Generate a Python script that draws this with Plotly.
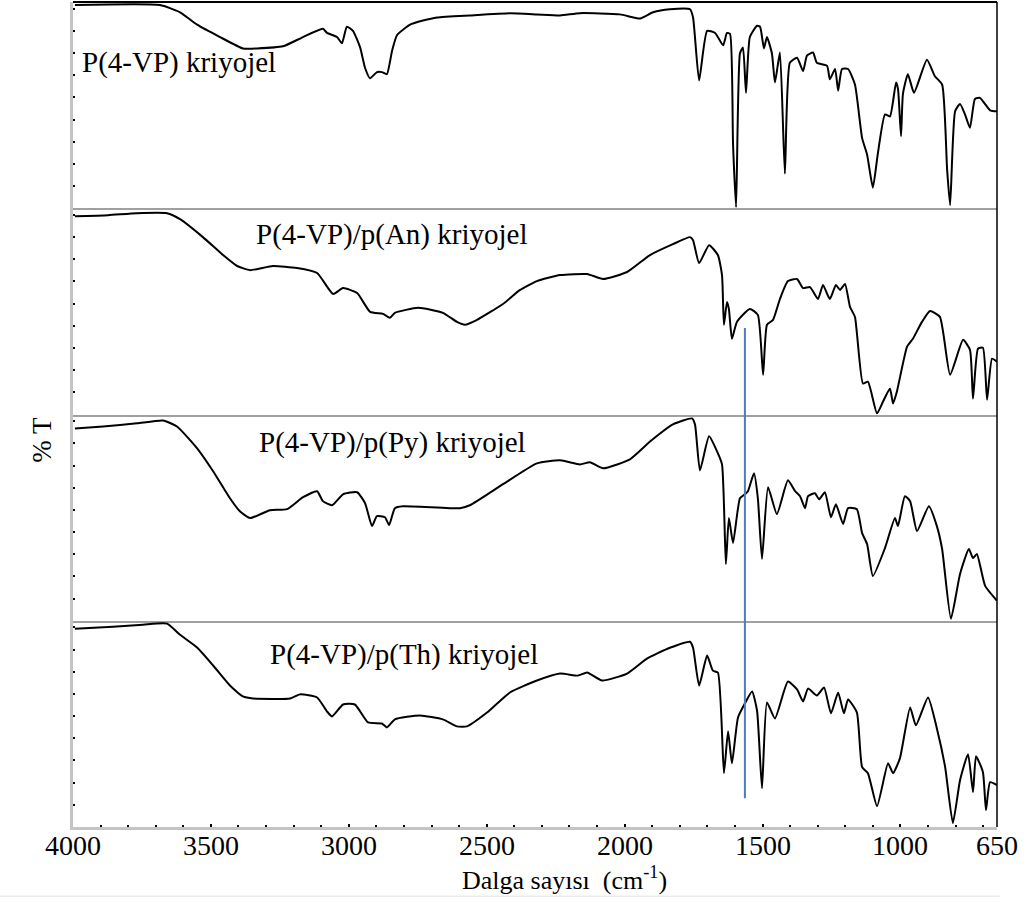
import plotly.graph_objects as go
from plotly.subplots import make_subplots

# ---------------- data (wavenumber cm-1, %T within each panel) ----------------
wn_p4vp = [3993, 3685, 3612, 3550, 3467, 3384, 3333, 3239, 3166, 3094, 3079, 3043, 3025, 3007,
           2985, 2959, 2941, 2923, 2898, 2880, 2862, 2843, 2825, 2778, 2731, 2680, 2561, 2416,
           2318, 2234, 2162, 2017, 1944, 1897, 1836, 1763, 1752, 1730, 1701, 1672, 1643, 1629,
           1618, 1607, 1596, 1582, 1571, 1560, 1546, 1520, 1509, 1495, 1484, 1466, 1455, 1437,
           1419, 1401, 1375, 1353, 1339, 1317, 1303, 1266, 1256, 1237, 1226, 1212, 1190, 1165,
           1139, 1121, 1100, 1082, 1056, 1038, 1016, 1009, 998, 991, 973, 951, 904, 875, 849,
           831, 820, 802, 784, 766, 748, 730, 712, 675, 650]
t_p4vp = [98.5, 98.5, 95, 89, 83, 77.5, 77.5, 78.5, 83, 87, 85, 83, 80, 88,
          86, 78, 68, 63, 66, 66, 65, 76.5, 84, 89, 91, 92.5, 93.5, 94.5,
          94, 93.5, 94.6, 94, 92, 95, 96.5, 96.5, 92.5, 62, 86, 85, 79, 85,
          84.5, 31, 0.5, 75, 78, 56, 83, 88.5, 88, 77.5, 83, 75, 61, 75.5,
          16.7, 70.5, 73, 66.5, 74, 75.5, 70.5, 69, 62.5, 67.5, 57, 67.5, 67.5, 60,
          34, 26, 10, 26.5, 45.5, 44.5, 61, 58, 35, 55.5, 65, 56, 72, 64, 60,
          19, 1.5, 47, 50.5, 45.5, 39, 53, 53.5, 47.5, 47]

wn_an = [3993, 3873, 3768, 3659, 3612, 3529, 3456, 3405, 3358, 3275, 3188, 3115, 3057, 3021,
         2970, 2923, 2876, 2851, 2833, 2749, 2659, 2608, 2579, 2535, 2441, 2379, 2318, 2234,
         2136, 2078, 1991, 1908, 1825, 1763, 1752, 1730, 1694, 1662, 1647, 1640, 1629, 1622,
         1611, 1593, 1546, 1517, 1498, 1484, 1462, 1437, 1408, 1375, 1353, 1328, 1299, 1281,
         1256, 1234, 1219, 1201, 1183, 1165, 1136, 1118, 1085, 1063, 1038, 1027, 1013, 976,
         955, 922, 893, 857, 820, 773, 748, 737, 719, 701, 686, 668, 650]
t_an = [96.1, 96.6, 97.6, 97.6, 94.7, 86.0, 77.3, 72.0, 70.0, 72.0, 71.0, 68.6, 58.4, 61.3,
        58.9, 49.8, 48.8, 46.9, 49.3, 51.7, 49.3, 44.9, 43.5, 45.9, 53.6, 60.4, 64.7, 67.6,
        68.1, 65.7, 69.1, 77.3, 82.6, 86.0, 84.5, 73.4, 82.1, 77.3, 67.6, 43.5, 54.6, 51.2,
        36.7, 44.9, 51.2, 48.3, 19.3, 43.5, 45.9, 56.0, 64.7, 65.7, 61.3, 61.8, 56.0, 62.8,
        56.0, 62.8, 60.4, 63.3, 52.2, 47.3, 15.0, 15.9, 0.5, 6.3, 12.6, 5.3, 11.1, 32.9,
        36.7, 44.9, 50.2, 47.3, 19.3, 36.2, 31.4, 7.7, 31.9, 32.4, 7.2, 27.1, 25.6]

wn_py = [3993, 3891, 3768, 3674, 3623, 3550, 3492, 3431, 3395, 3358, 3286, 3224, 3166, 3115,
         3094, 3061, 3021, 2970, 2941, 2916, 2898, 2869, 2854, 2833, 2804, 2633, 2597, 2561,
         2441, 2318, 2234, 2162, 2126, 2078, 1981, 1908, 1825, 1756, 1745, 1727, 1694, 1665,
         1647, 1633, 1622, 1607, 1582, 1564, 1553, 1531, 1517, 1502, 1480, 1448, 1408, 1382,
         1364, 1346, 1335, 1310, 1295, 1274, 1252, 1234, 1208, 1190, 1158, 1139, 1121, 1100,
         1056, 1020, 1009, 984, 965, 940, 897, 868, 849, 817, 784, 752, 737, 723, 693, 650]
t_py = [93.2, 94.2, 95.7, 97.1, 94.2, 83.6, 72.5, 59.4, 53.1, 49.8, 53.6, 54.1, 59.9, 62.8,
        58.0, 56.0, 61.3, 62.3, 57.0, 45.9, 50.7, 50.2, 46.4, 54.6, 55.5, 54.6, 54.6, 56.0,
        66.2, 76.3, 77.8, 75.8, 76.8, 73.9, 78.3, 86.9, 95.2, 98.1, 95.2, 72.9, 89.4, 82.1,
        75.8, 27.5, 49.8, 37.7, 59.4, 61.3, 62.8, 71.5, 59.4, 30.0, 64.7, 51.7, 68.1, 62.8,
        60.4, 54.6, 60.4, 61.8, 58.9, 62.3, 50.2, 56.5, 46.9, 54.6, 54.1, 42.5, 37.2, 21.7,
        35.3, 49.8, 45.9, 60.4, 58.0, 43.5, 55.5, 45.9, 34.8, 1.0, 22.7, 34.8, 30.4, 32.4, 16.9, 9.7]

wn_th = [3993, 3855, 3746, 3659, 3612, 3550, 3492, 3431, 3384, 3347, 3213, 3177, 3115, 3079,
         3061, 3021, 2978, 2930, 2880, 2862, 2833, 2742, 2659, 2608, 2572, 2499, 2416, 2318,
         2234, 2169, 2136, 2082, 1991, 1919, 1836, 1763, 1752, 1730, 1701, 1680, 1662, 1640,
         1625, 1611, 1589, 1564, 1538, 1520, 1502, 1484, 1455, 1408, 1375, 1353, 1335, 1303,
         1277, 1252, 1226, 1205, 1190, 1158, 1139, 1118, 1085, 1045, 1027, 1002, 965, 944,
         900, 868, 838, 810, 784, 755, 737, 726, 701, 690, 675, 650]
t_th = [96.1, 97.1, 98.1, 98.6, 93.2, 87.0, 78.3, 68.6, 63.3, 62.3, 62.3, 64.3, 62.8, 56.0,
        53.6, 59.4, 59.4, 50.7, 50.2, 48.3, 52.2, 54.1, 52.2, 48.8, 48.8, 55.5, 65.2, 71.0,
        74.4, 73.4, 74.9, 71.0, 74.4, 81.6, 86.9, 89.8, 86.9, 68.6, 83.1, 75.8, 74.9, 26.1,
        46.4, 30.9, 53.1, 59.9, 65.7, 56.5, 18.8, 60.4, 52.6, 70.5, 66.7, 60.9, 67.1, 63.8,
        67.6, 55.1, 65.2, 55.1, 61.8, 55.5, 29.0, 26.1, 10.1, 30.9, 26.1, 33.3, 58.0, 49.3,
        62.8, 47.8, 29.0, 1.9, 22.7, 35.3, 16.9, 34.3, 26.6, 8.2, 21.7, 20.3]

labels = ["P(4-VP) kriyojel", "P(4-VP)/p(An) kriyojel",
          "P(4-VP)/p(Py) kriyojel", "P(4-VP)/p(Th) kriyojel"]
label_wn = [3975, 2847, 2843, 2800]
label_t = [70.6, 87.4, 86.5, 83.6]
label_anchor = ["left", "center", "center", "center"]

x_tickvals = [4000, 3500, 3000, 2500, 2000, 1500, 1000, 650]
x_ticktext = ["4000", "3500", "3000", "2500", "2000", "1500", "1000", "650"]
x_title = "Dalga sayısı  (cm<sup>-1</sup>)"
y_title = "% T"

marker_wn = 1564          # vertical reference line
marker_top_t = 42         # %T in panel 2 where it starts
marker_bottom_t = 14      # %T in panel 4 where it ends

# ---------------- figure ----------------
FONT = "Liberation Serif, Times New Roman, Times, serif"
series = [(wn_p4vp, t_p4vp), (wn_an, t_an), (wn_py, t_py), (wn_th, t_th)]

fig = make_subplots(rows=4, cols=1, shared_xaxes=True, vertical_spacing=0)

for i, (wx, ty) in enumerate(series):
    fig.add_trace(go.Scatter(x=wx, y=ty, mode="lines",
                             line=dict(color="black", width=2, shape="spline", smoothing=0.5),
                             showlegend=False, hoverinfo="skip"),
                  row=i + 1, col=1)
    fig.add_annotation(x=label_wn[i], y=label_t[i], xref=f"x{i+1}" if i else "x",
                       yref=f"y{i+1}" if i else "y", text=labels[i], showarrow=False,
                       xanchor=label_anchor[i], yanchor="middle",
                       font=dict(family=FONT, size=29, color="black"))

for i in range(4):
    fig.update_yaxes(range=[0, 100], showgrid=False, zeroline=False, showticklabels=False,
                     showline=True, linecolor="#c4c4c4", linewidth=3,
                     ticks="inside", ticklen=2, tickwidth=2, tickcolor="black",
                     tick0=0, dtick=10.75, row=i + 1, col=1)
    fig.update_xaxes(range=[4000, 650], showgrid=False, zeroline=False,
                     showline=True, linewidth=2, showticklabels=False,
                     linecolor="#a0a0a0" if i < 3 else "#c4c4c4",
                     row=i + 1, col=1)

fig.update_xaxes(row=4, col=1, linewidth=3, tickvals=x_tickvals,
                 ticks="inside", ticklen=3, tickwidth=2, tickcolor="black",
                 minor=dict(dtick=100, tick0=4000, ticks="inside", ticklen=2,
                            tickwidth=2, tickcolor="black"))

# x tick labels placed as text on the wavenumber axis (just under the axis line)
for v, txt in zip(x_tickvals, x_ticktext):
    fig.add_annotation(x=v, y=-0.023, xref="x4", yref="paper", text=txt,
                       xanchor="center", yanchor="middle", showarrow=False,
                       font=dict(family=FONT, size=28, color="black"))

# vertical marker spanning panels 2..4 (converted from panel %T to paper coords)
dom2 = fig.layout.yaxis2.domain
dom4 = fig.layout.yaxis4.domain
y_top = dom2[0] + (dom2[1] - dom2[0]) * marker_top_t / 100
y_bot = dom4[0] + (dom4[1] - dom4[0]) * marker_bottom_t / 100
fig.add_shape(type="line", xref="x4", yref="paper", x0=marker_wn, x1=marker_wn,
              y0=y_bot, y1=y_top, line=dict(color="#4a7ebb", width=2))

# frame: top and right borders
fig.add_shape(type="line", xref="paper", yref="paper", x0=0, x1=1, y0=1, y1=1,
              line=dict(color="black", width=2))
fig.add_shape(type="line", xref="paper", yref="paper", x0=1, x1=1, y0=0, y1=1,
              line=dict(color="black", width=1.5))
# faint line below the axis title
fig.add_shape(type="line", xref="paper", yref="paper", x0=-0.079, x1=1.003,
              y0=-0.084, y1=-0.084, line=dict(color="#ebebeb", width=1.5))

# axis titles
fig.add_annotation(xref="paper", yref="paper", x=0.532, y=-0.063, text=x_title,
                   xanchor="center", yanchor="middle", showarrow=False,
                   font=dict(family=FONT, size=26, color="black"))
fig.add_annotation(xref="paper", yref="paper", x=-0.034, y=0.469, text=y_title,
                   textangle=-90, xanchor="center", yanchor="middle", showarrow=False,
                   font=dict(family=FONT, size=27, color="black"))

fig.update_layout(width=1035, height=903, plot_bgcolor="white", paper_bgcolor="white",
                  margin=dict(l=73, r=38, t=2, b=76))

fig.write_html("out.html")
